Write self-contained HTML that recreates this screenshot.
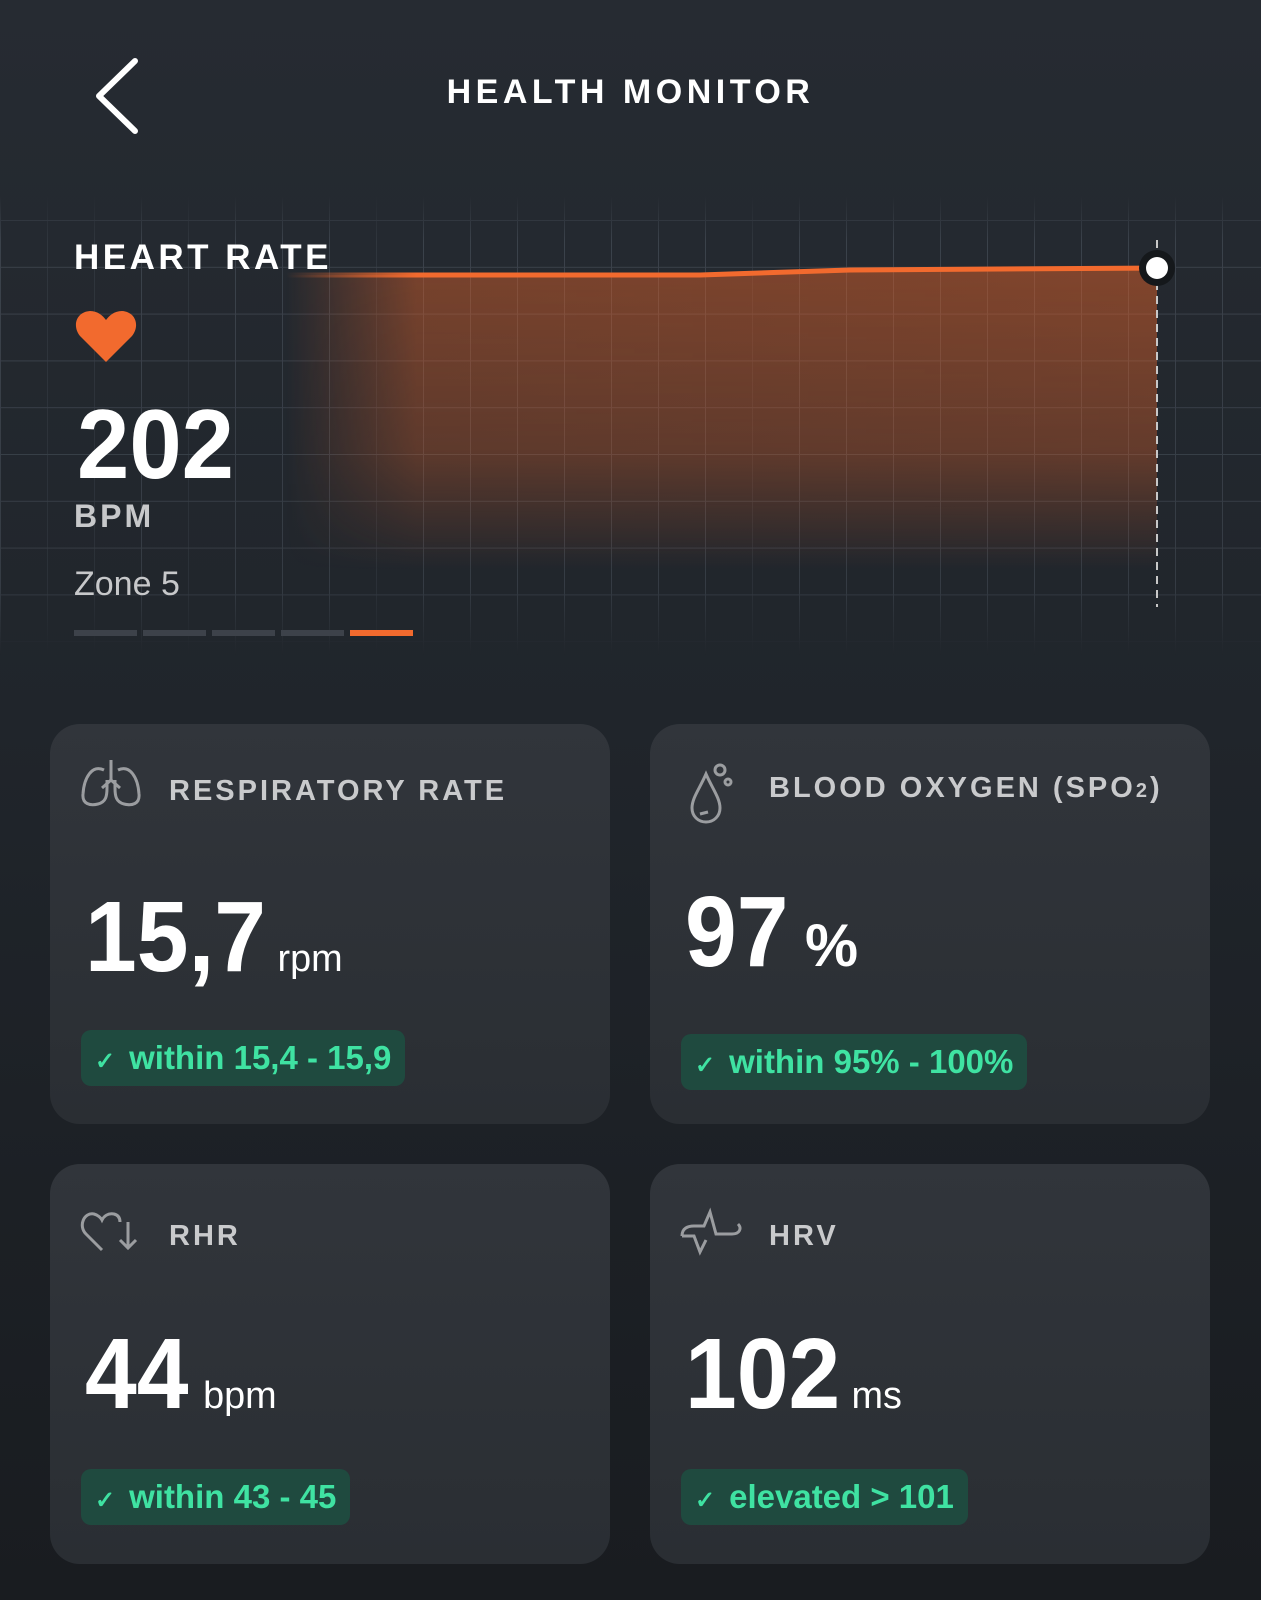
<!DOCTYPE html>
<html><head><meta charset="utf-8"><style>
*{margin:0;padding:0;box-sizing:border-box}
body{width:1261px;height:1600px;overflow:hidden;position:relative;background:linear-gradient(180deg,#262b32 0%,#20252b 45%,#191c20 100%);font-family:"Liberation Sans",sans-serif;color:#fff}
.a{position:absolute;white-space:nowrap}
.t{font-weight:bold;letter-spacing:4px}
.card{position:absolute;width:560px;height:400px;border-radius:30px;background:linear-gradient(180deg,#31353b,#2a2e33)}
.ttl{position:absolute;top:51px;left:119px;font-weight:bold;font-size:29px;letter-spacing:3px;color:#c9cacc}
.val{position:absolute;left:35px;top:163px;font-weight:bold;font-size:100px;line-height:100px;color:#fff;transform:scaleX(0.93);transform-origin:0 0}
.val span{font-weight:normal;font-size:38px;margin-left:12px;display:inline-block;transform:scaleX(1.07);transform-origin:0 0}
.badge{position:absolute;left:31px;height:56px;border-radius:10px;background:#1f4a3f;color:#3fe2a2;font-weight:bold;font-size:33px;letter-spacing:0px;line-height:56px;padding:0 14px 0 14px}
.badge b{font-size:24px;margin-right:14px}
.ic{position:absolute;left:30px;top:34px}
</style></head><body>
<svg class="a" style="left:0;top:0" width="1261" height="680">
<defs>
<linearGradient id="fx" x1="0" x2="1" y1="0" y2="0"><stop offset="0" stop-color="#e0622a" stop-opacity="0"/><stop offset="0.15" stop-color="#e0622a" stop-opacity="0.45"/><stop offset="1" stop-color="#e0622a" stop-opacity="0.5"/></linearGradient>
<linearGradient id="fy" x1="0" x2="0" y1="0" y2="1"><stop offset="0" stop-color="#fff"/><stop offset="0.6" stop-color="#fff" stop-opacity="0.7"/><stop offset="1" stop-color="#fff" stop-opacity="0"/></linearGradient>
<mask id="m"><rect x="0" y="270" width="1261" height="300" fill="url(#fy)"/></mask>
<linearGradient id="ln" x1="0" x2="1"><stop offset="0" stop-color="#f26a2e" stop-opacity="0"/><stop offset="0.15" stop-color="#f26a2e"/><stop offset="1" stop-color="#f26a2e"/></linearGradient>
<pattern id="g" width="47" height="46.8" patternUnits="userSpaceOnUse" y="220"><path d="M0 0H47M0 0V46.8" stroke="#3e454e" stroke-width="2" fill="none"/></pattern>
<linearGradient id="gy" x1="0" x2="0" y1="0" y2="1"><stop offset="0" stop-color="#fff" stop-opacity="0"/><stop offset="0.1" stop-color="#fff" stop-opacity="0.9"/><stop offset="0.85" stop-color="#fff" stop-opacity="0.7"/><stop offset="1" stop-color="#fff" stop-opacity="0"/></linearGradient>
<mask id="gm"><rect x="0" y="195" width="1261" height="460" fill="url(#gy)"/></mask>
</defs>
<rect x="0" y="195" width="1261" height="460" fill="url(#g)" mask="url(#gm)"/>
<path d="M286 275 L700 275 L850 270 L1157 268 L1157 600 L286 600Z" fill="url(#fx)" mask="url(#m)"/>
<path d="M286 275 L570 275 L700 275 L850 270 L1157 268" stroke="url(#ln)" stroke-width="5" fill="none"/>
<line x1="1157" y1="240" x2="1157" y2="607" stroke="#c8c8c8" stroke-width="2" stroke-dasharray="8 6"/>
<circle cx="1157" cy="268" r="18" fill="#15181b"/>
<circle cx="1157" cy="268" r="11" fill="#fff"/>
<path d="M99 96 L135 61 M99 96 L135 131" stroke="#fff" stroke-width="6" stroke-linecap="round" fill="none"/>
<path d="M106 362 L80 336 C72 326,76 312,90 311 C98 311,103 316,106 320 C109 316,114 311,122 311 C136 312,140 326,132 336 Z" fill="#f26a2e"/>
</svg>
<div class="a t" style="left:0;width:1261px;text-align:center;top:73px;font-size:34px;letter-spacing:4.5px;padding-left:0">HEALTH MONITOR</div>
<div class="a t" style="left:74px;top:238px;font-size:35px;letter-spacing:3.5px">HEART RATE</div>
<div class="a" style="left:77px;top:388px;font-weight:bold;font-size:98px;transform:scaleX(0.96);transform-origin:0 0">202</div>
<div class="a t" style="left:74px;top:498px;font-size:32px;letter-spacing:3px;color:#c7c8ca">BPM</div>
<div class="a" style="left:74px;top:565px;font-size:34px;color:#c7c8ca">Zone 5</div>
<div class="a" style="left:74px;top:630px;width:63px;height:6px;background:#3d424a"></div>
<div class="a" style="left:143px;top:630px;width:63px;height:6px;background:#3d424a"></div>
<div class="a" style="left:212px;top:630px;width:63px;height:6px;background:#3d424a"></div>
<div class="a" style="left:281px;top:630px;width:63px;height:6px;background:#3d424a"></div>
<div class="a" style="left:350px;top:630px;width:63px;height:6px;background:#f26a2e"></div>

<div class="card" style="left:50px;top:724px">
<svg class="ic" width="62" height="50" viewBox="0 0 62 50" fill="none" stroke="#9b9da0" stroke-width="3"><path d="M31 2V22M31 22L22 30M31 22L40 30M24 12C12 6,4 20,3 36C2 46,10 48,18 46C26 44,27 38,27 30V22M38 12C50 6,58 20,59 36C60 46,52 48,44 46C36 44,35 38,35 30V22"/></svg>
<div class="ttl">RESPIRATORY RATE</div>
<div class="val">15,7<span>rpm</span></div>
<div class="badge" style="top:306px"><b>✓</b>within 15,4 - 15,9</div>
</div>
<div class="card" style="left:650px;top:724px">
<svg class="ic" style="left:38px;top:38px" width="50" height="62" viewBox="0 0 50 62" fill="none" stroke="#9b9da0" stroke-width="3"><path d="M18 12C12 26,4 36,4 46C4 54,10 60,18 60C26 60,32 54,32 46C32 36,24 26,18 12Z"/><circle cx="32" cy="8" r="5"/><circle cx="40" cy="20" r="3"/><path d="M12 52L20 50"/></svg>
<div class="ttl" style="top:48px">BLOOD OXYGEN (SPO<span style="font-size:20px">2</span>)</div>
<div class="val" style="top:158px">97<span style="font-weight:bold;font-size:60px;margin-left:18px">%</span></div>
<div class="badge" style="top:310px"><b>✓</b>within 95% - 100%</div>
</div>
<div class="card" style="top:1164px;left:50px">
<svg class="ic" style="top:46px" width="62" height="42" viewBox="0 0 62 42" fill="none" stroke="#9b9da0" stroke-width="3"><path d="M22 40L6 24C-2 16,4 2,14 4C18 5,21 8,22 10C24 6,28 3,34 4C38 5,40 8,40 12M48 12V38M40 30L48 38L56 30"/></svg>
<div class="ttl" style="top:56px">RHR</div>
<div class="val" style="top:160px">44<span style="margin-left:16px">bpm</span></div>
<div class="badge" style="top:305px"><b>✓</b>within 43 - 45</div>
</div>
<div class="card" style="left:650px;top:1164px">
<svg class="ic" style="top:42px" width="64" height="50" viewBox="0 0 64 50" fill="none" stroke="#9b9da0" stroke-width="3"><path d="M2 30C2 22,8 20,14 20H24L30 6L36 28H52C60 28,62 22,58 18M2 30L14 30L20 46L26 34"/></svg>
<div class="ttl" style="top:56px">HRV</div>
<div class="val" style="top:160px">102<span>ms</span></div>
<div class="badge" style="top:305px"><b>✓</b>elevated &gt; 101</div>
</div>
</body></html>
